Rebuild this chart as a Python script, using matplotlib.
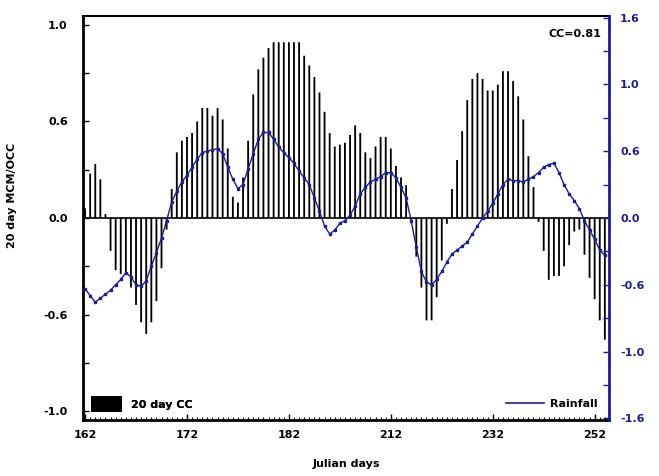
import numpy as np
import matplotlib
matplotlib.use("Agg")
import matplotlib.pyplot as plt
from matplotlib.lines import Line2D
from matplotlib.ticker import FixedLocator, FixedFormatter, MultipleLocator

# julian days 162..264
days = np.arange(162, 265)

# 20 day correlation coefficient (left axis)
cc_20day = [
    0.05, 0.23, 0.28, 0.20, 0.02, -0.17, -0.27, -0.29, -0.29, -0.36,
    -0.45, -0.54, -0.60, -0.54, -0.43, -0.26, -0.06, 0.15, 0.34, 0.40,
    0.42, 0.44, 0.50, 0.57, 0.57, 0.53, 0.57, 0.51, 0.36, 0.11,
    0.08, 0.21, 0.40, 0.64, 0.77, 0.83, 0.88, 0.91, 0.91, 0.91,
    0.91, 0.91, 0.91, 0.84, 0.79, 0.73, 0.65, 0.55, 0.44, 0.37,
    0.38, 0.39, 0.43, 0.48, 0.44, 0.34, 0.31, 0.37, 0.42, 0.42,
    0.36, 0.27, 0.21, 0.17, -0.02, -0.20, -0.36, -0.53, -0.53, -0.41,
    -0.22, -0.03, 0.15, 0.30, 0.45, 0.61, 0.72, 0.75, 0.72, 0.66,
    0.66, 0.69, 0.76, 0.76, 0.71, 0.63, 0.51, 0.32, 0.16, -0.02,
    -0.17, -0.32, -0.30, -0.30, -0.25, -0.14, -0.07, -0.06, -0.19, -0.31,
    -0.42, -0.53, -0.63,
]

# rainfall anomaly (right axis)
rainfall = [
    -0.53, -0.58, -0.63, -0.60, -0.57, -0.54, -0.50, -0.46, -0.41, -0.44,
    -0.50, -0.51, -0.47, -0.36, -0.26, -0.15, -0.02, 0.12, 0.20, 0.27,
    0.32, 0.38, 0.44, 0.49, 0.50, 0.51, 0.52, 0.48, 0.38, 0.29,
    0.22, 0.25, 0.37, 0.48, 0.59, 0.64, 0.64, 0.59, 0.53, 0.49,
    0.45, 0.41, 0.35, 0.30, 0.25, 0.15, 0.05, -0.06, -0.12, -0.09,
    -0.04, -0.02, 0.02, 0.09, 0.18, 0.23, 0.27, 0.29, 0.31, 0.34,
    0.34, 0.30, 0.23, 0.15, -0.02, -0.22, -0.40, -0.48, -0.50, -0.46,
    -0.40, -0.33, -0.27, -0.24, -0.21, -0.18, -0.12, -0.06, 0.00, 0.05,
    0.11, 0.18, 0.25, 0.29, 0.28, 0.28, 0.27, 0.29, 0.31, 0.34,
    0.38, 0.40, 0.41, 0.34, 0.25, 0.18, 0.13, 0.07, -0.02, -0.09,
    -0.16, -0.24, -0.28,
]

x_ticks = [162, 182, 202, 222, 242, 262]
x_labels = ["162", "172", "182", "212", "232", "252"]
left_ticks = [-1.0, -0.5, 0.0, 0.5, 1.0]
left_labels = ["-1.0", "-0.6", "0.0", "0.6", "1.0"]
right_ticks = [-1.5, -1.0, -0.5, 0.0, 0.5, 1.0, 1.5]
right_labels = ["-1.6", "-1.0", "-0.6", "0.0", "0.6", "1.0", "1.6"]

BLUE = "#1c1c96"

plt.rcParams["font.family"] = "DejaVu Sans"
plt.rcParams["font.weight"] = "bold"

fig = plt.figure(figsize=(6.59, 4.76), dpi=100)
ax = fig.add_axes([0.126, 0.118, 0.798, 0.848])

bars = ax.bar(days, cc_20day, width=0.36, color="black", linewidth=0,
              snap=False, label="20 day CC")
ax.axhline(0, color="black", lw=1.2)
ax.set_xlim(161.6, 264.8)
ax.set_ylim(-1.045, 1.045)

ax.xaxis.set_major_locator(FixedLocator(x_ticks))
ax.xaxis.set_major_formatter(FixedFormatter(x_labels))
ax.xaxis.set_minor_locator(MultipleLocator(1))
ax.yaxis.set_major_locator(FixedLocator(left_ticks))
ax.yaxis.set_major_formatter(FixedFormatter(left_labels))
ax.yaxis.set_minor_locator(MultipleLocator(0.25))
ax.tick_params(axis="both", which="both", direction="in", top=False, right=False)
ax.tick_params(axis="x", which="major", length=4, width=1, pad=7, labelsize=8)
ax.tick_params(axis="x", which="minor", length=2.5, width=0.8)
ax.tick_params(axis="y", which="major", length=4, width=1, pad=11, labelsize=8)
ax.tick_params(axis="y", which="minor", length=4, width=1)
for s in ["left", "bottom"]:
    ax.spines[s].set_linewidth(2)
ax.spines["top"].set_linewidth(1.5)
ax.spines["right"].set_visible(False)

ax.set_xlabel("Julian days", fontsize=8, fontweight="bold", labelpad=14)
ax.set_ylabel("20 day MCM/OCC", fontsize=8, fontweight="bold")
ax.yaxis.set_label_coords(-0.125, 0.555)
ax.text(0.985, 0.955, "CC=0.81", transform=ax.transAxes, ha="right", va="center",
        fontsize=8, fontweight="bold")

leg1 = ax.legend(handles=[bars], loc="lower left", frameon=False, fontsize=8,
                 handlelength=2.8, handleheight=1.8, borderaxespad=0.3)
ax.add_artist(leg1)

ax2 = ax.twinx()
ax2.plot(days, rainfall, color=BLUE, lw=1.0, marker="s", markersize=1.6)
ax2.set_ylim(-1.51, 1.51)
ax2.yaxis.set_major_locator(FixedLocator(right_ticks))
ax2.yaxis.set_major_formatter(FixedFormatter(right_labels))
ax2.yaxis.set_minor_locator(MultipleLocator(0.25))
ax2.tick_params(axis="y", which="both", direction="in", colors=BLUE,
                length=4, width=1, pad=8, labelsize=8)
ax2.spines["right"].set_color(BLUE)
ax2.spines["right"].set_linewidth(2)
for s in ["left", "bottom", "top"]:
    ax2.spines[s].set_visible(False)

rain_handle = Line2D([], [], color=BLUE, lw=1.2)
ax2.legend(handles=[rain_handle], labels=["Rainfall"], loc="lower right",
           frameon=False, fontsize=8, handlelength=3.4, handletextpad=0.6,
           borderaxespad=0.6)

fig.savefig("out.png", dpi=100)
